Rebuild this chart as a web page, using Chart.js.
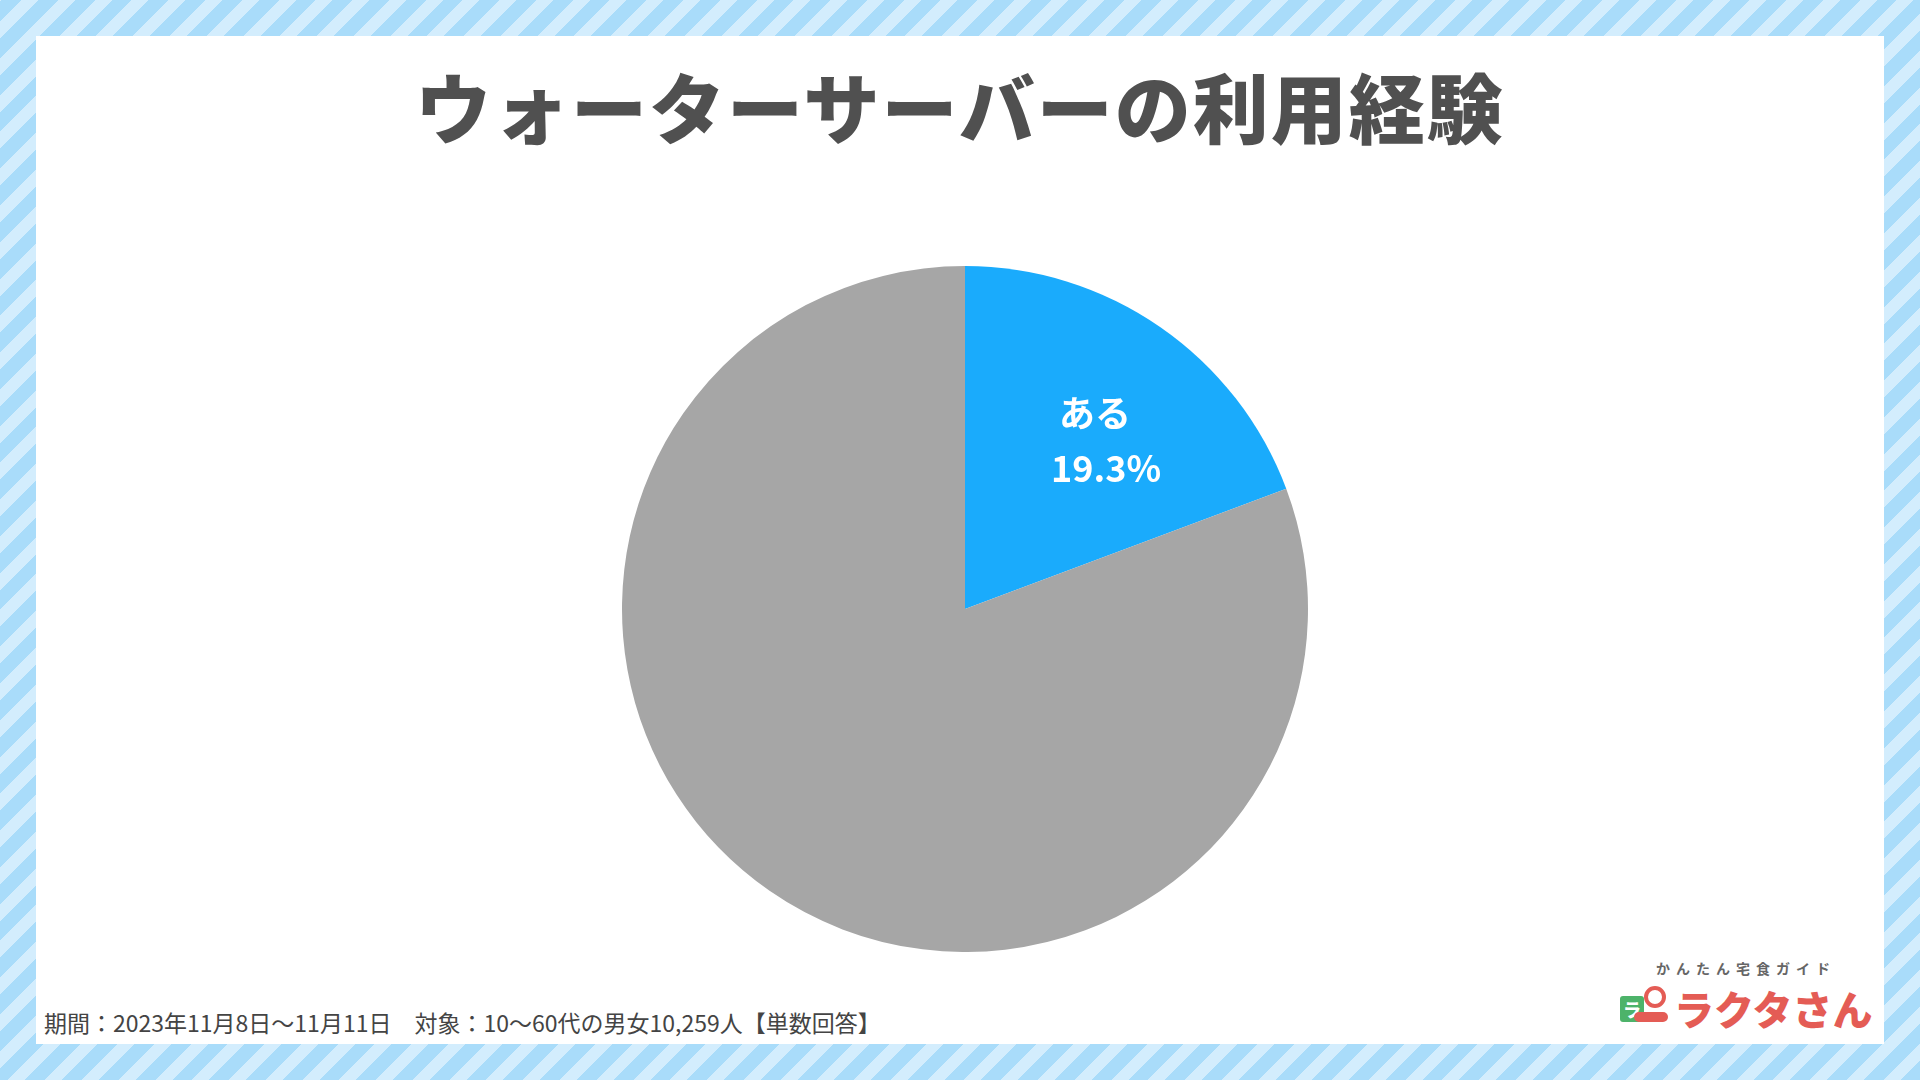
<!DOCTYPE html>
<html><head><meta charset="utf-8">
<script src="https://cdn.jsdelivr.net/npm/chart.js@4/dist/chart.umd.min.js"></script>
<style>
html,body{margin:0;padding:0;width:1920px;height:1080px;overflow:hidden;font-family:"Noto Sans CJK JP","Noto Sans",sans-serif;}
body{background:repeating-linear-gradient(-45deg,#a9dcfa 0 14px,#d3edfd 14px 26px);}
#panel{position:absolute;left:36px;top:36px;width:1848px;height:1008px;background:#fff;}
#title{position:absolute;left:0;width:1920px;top:55px;text-align:center;font-size:76px;font-weight:900;color:#505050;letter-spacing:2px;line-height:100px;}
#wrap{position:absolute;left:622px;top:266px;width:686px;height:686px;}
#foot{position:absolute;left:44px;top:1005px;font-size:23px;color:#444;letter-spacing:0px;white-space:nowrap;}
#logo{position:absolute;left:1620px;top:958px;width:280px;height:80px;white-space:nowrap;}
#logo .sub{position:absolute;left:36px;top:0;font-size:14px;color:#666;letter-spacing:6px;font-weight:700;}
#logo .main{position:absolute;left:54px;top:21px;font-size:40px;font-weight:900;color:#e45c55;letter-spacing:0px;}
#logo .bag{position:absolute;left:0;top:38px;width:24px;height:26px;background:#4db36a;border-radius:3px;color:#fff;font-size:18px;font-weight:900;text-align:center;line-height:26px;}
#logo .head{position:absolute;left:24px;top:28px;width:22px;height:22px;border:4px solid #e45c55;border-radius:50%;box-sizing:border-box;}
#logo .arm{position:absolute;left:14px;top:54px;width:34px;height:10px;background:#e45c55;border-radius:5px;}
</style></head><body>
<div id="panel"></div>
<div id="title">ウォーターサーバーの利用経験</div>
<div id="wrap"><canvas id="c"></canvas></div>
<div id="foot">期間：2023年11月8日〜11月11日　対象：10〜60代の男女10,259人【単数回答】</div>
<div id="logo"><div class="sub">かんたん宅食ガイド</div><div class="bag">ラ</div><div class="head"></div><div class="arm"></div><div class="main">ラクタさん</div></div>
<script>
const categories=["ある","ない"];
const values=[19.3,80.7];
const colors=["#1aabfc","#a6a6a6"];
const showLabel=[true,false];
const labelPlugin={id:'lbl',afterDatasetsDraw(chart){
  const ctx=chart.ctx;const meta=chart.getDatasetMeta(0);
  meta.data.forEach((arc,i)=>{
    if(!showLabel[i])return;
    const p=arc.getProps(['startAngle','endAngle','outerRadius','x','y'],true);
    const a=(p.startAngle+p.endAngle)/2, r=p.outerRadius*0.64;
    const x=p.x+Math.cos(a)*r+16, y=p.y+Math.sin(a)*r+40;
    ctx.save();ctx.fillStyle='#fff';ctx.textAlign='center';ctx.textBaseline='middle';
    ctx.font='bold 36px "Noto Sans CJK JP","Noto Sans",sans-serif';
    ctx.fillText(categories[i],x-11,y-55);
    ctx.fillText(values[i].toFixed(1)+'%',x,y);
    ctx.restore();
  });
}};
new Chart(document.getElementById('c'),{type:'pie',
 data:{labels:categories,datasets:[{data:values,backgroundColor:colors,borderWidth:0}]},
 options:{responsive:true,maintainAspectRatio:false,animation:false,layout:{padding:0},
  plugins:{legend:{display:false},tooltip:{enabled:false}}},
 plugins:[labelPlugin]});
</script></body></html>
